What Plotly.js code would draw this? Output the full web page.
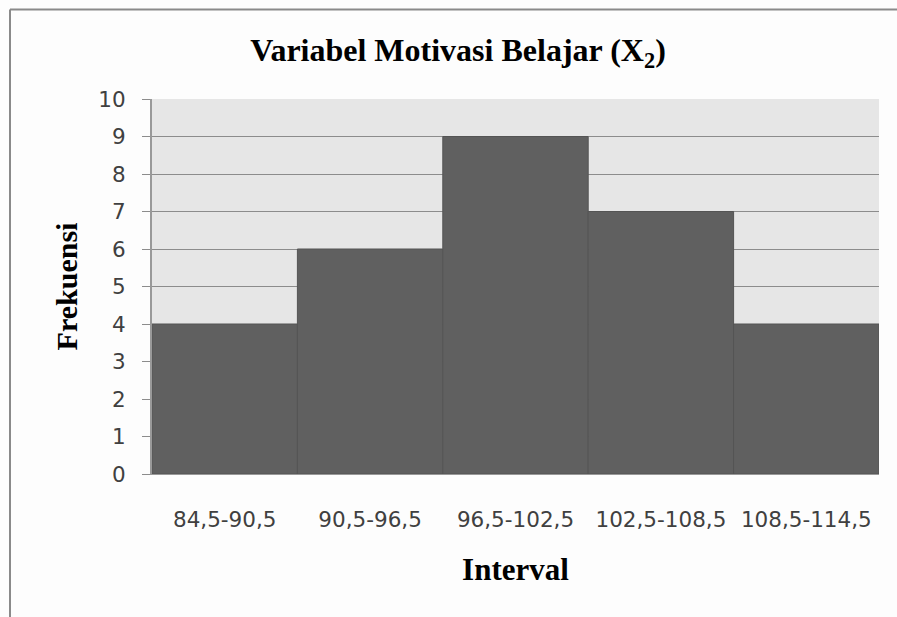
<!DOCTYPE html>
<html>
<head>
<meta charset="utf-8">
<script src="https://cdn.plot.ly/plotly-3.0.1.min.js"></script>
<style>html,body{margin:0;padding:0;background:#fdfdfd;}#chart{width:897px;height:617px;}</style>
</head>
<body>
<div id="chart"></div>
<script>
const intervals = ["84,5-90,5", "90,5-96,5", "96,5-102,5", "102,5-108,5", "108,5-114,5"];
const frekuensi = [4, 6, 9, 7, 4];
const yTicks = [0, 1, 2, 3, 4, 5, 6, 7, 8, 9, 10];

const trace = {
  type: 'bar',
  x: intervals,
  y: frekuensi,
  width: 1,
  marker: {color: '#606060', line: {color: '#545454', width: 1}},
  hoverinfo: 'x+y'
};

const layout = {
  width: 897, height: 617,
  margin: {l: 152, r: 18, t: 99, b: 143},
  paper_bgcolor: '#fdfdfd',
  plot_bgcolor: '#e6e6e6',
  showlegend: false,
  bargap: 0,
  title: {
    text: 'Variabel Motivasi Belajar (X<sub>2</sub>)',
    font: {family: 'Liberation Serif', size: 32, color: '#000', weight: 'bold'},
    x: 458/897, xref: 'container', xanchor: 'center',
    y: 1 - 50/617, yref: 'container', yanchor: 'middle'
  },
  xaxis: {
    type: 'category',
    tickfont: {family: 'DejaVu Sans', size: 21.5, color: '#404040'},
    showgrid: false, zeroline: false,
    showline: true, linecolor: '#999', linewidth: 1,
    ticks: '', ticklabelstandoff: 26,
    title: {text: 'Interval', font: {family: 'Liberation Serif', size: 31, color: '#000', weight: 'bold'}, standoff: 27}
  },
  yaxis: {
    range: [0, 10],
    tickvals: yTicks,
    tickfont: {family: 'DejaVu Sans', size: 21.5, color: '#404040'},
    showgrid: true, gridcolor: '#8c8c8c', gridwidth: 1,
    zeroline: false,
    showline: true, linecolor: '#999', linewidth: 2,
    ticks: 'outside', ticklen: 8, tickcolor: '#8c8c8c', tickwidth: 1,
    ticklabelstandoff: 12,
    title: {text: 'Frekuensi', font: {family: 'Liberation Serif', size: 30, color: '#000', weight: 'bold'}, standoff: 12}
  },
  shapes: [
    {type: 'line', xref: 'paper', yref: 'paper', x0: (10-152)/727, x1: (897-152)/727, y0: (474-9.5)/375, y1: (474-9.5)/375, line: {color: '#8a8a8a', width: 2}},
    {type: 'line', xref: 'paper', yref: 'paper', x0: (10-152)/727, x1: (10-152)/727, y0: (474-9.5)/375, y1: (474-617)/375, line: {color: '#8a8a8a', width: 2}}
  ]
};

Plotly.newPlot('chart', [trace], layout, {displayModeBar: false, staticPlot: true});
</script>
</body>
</html>
